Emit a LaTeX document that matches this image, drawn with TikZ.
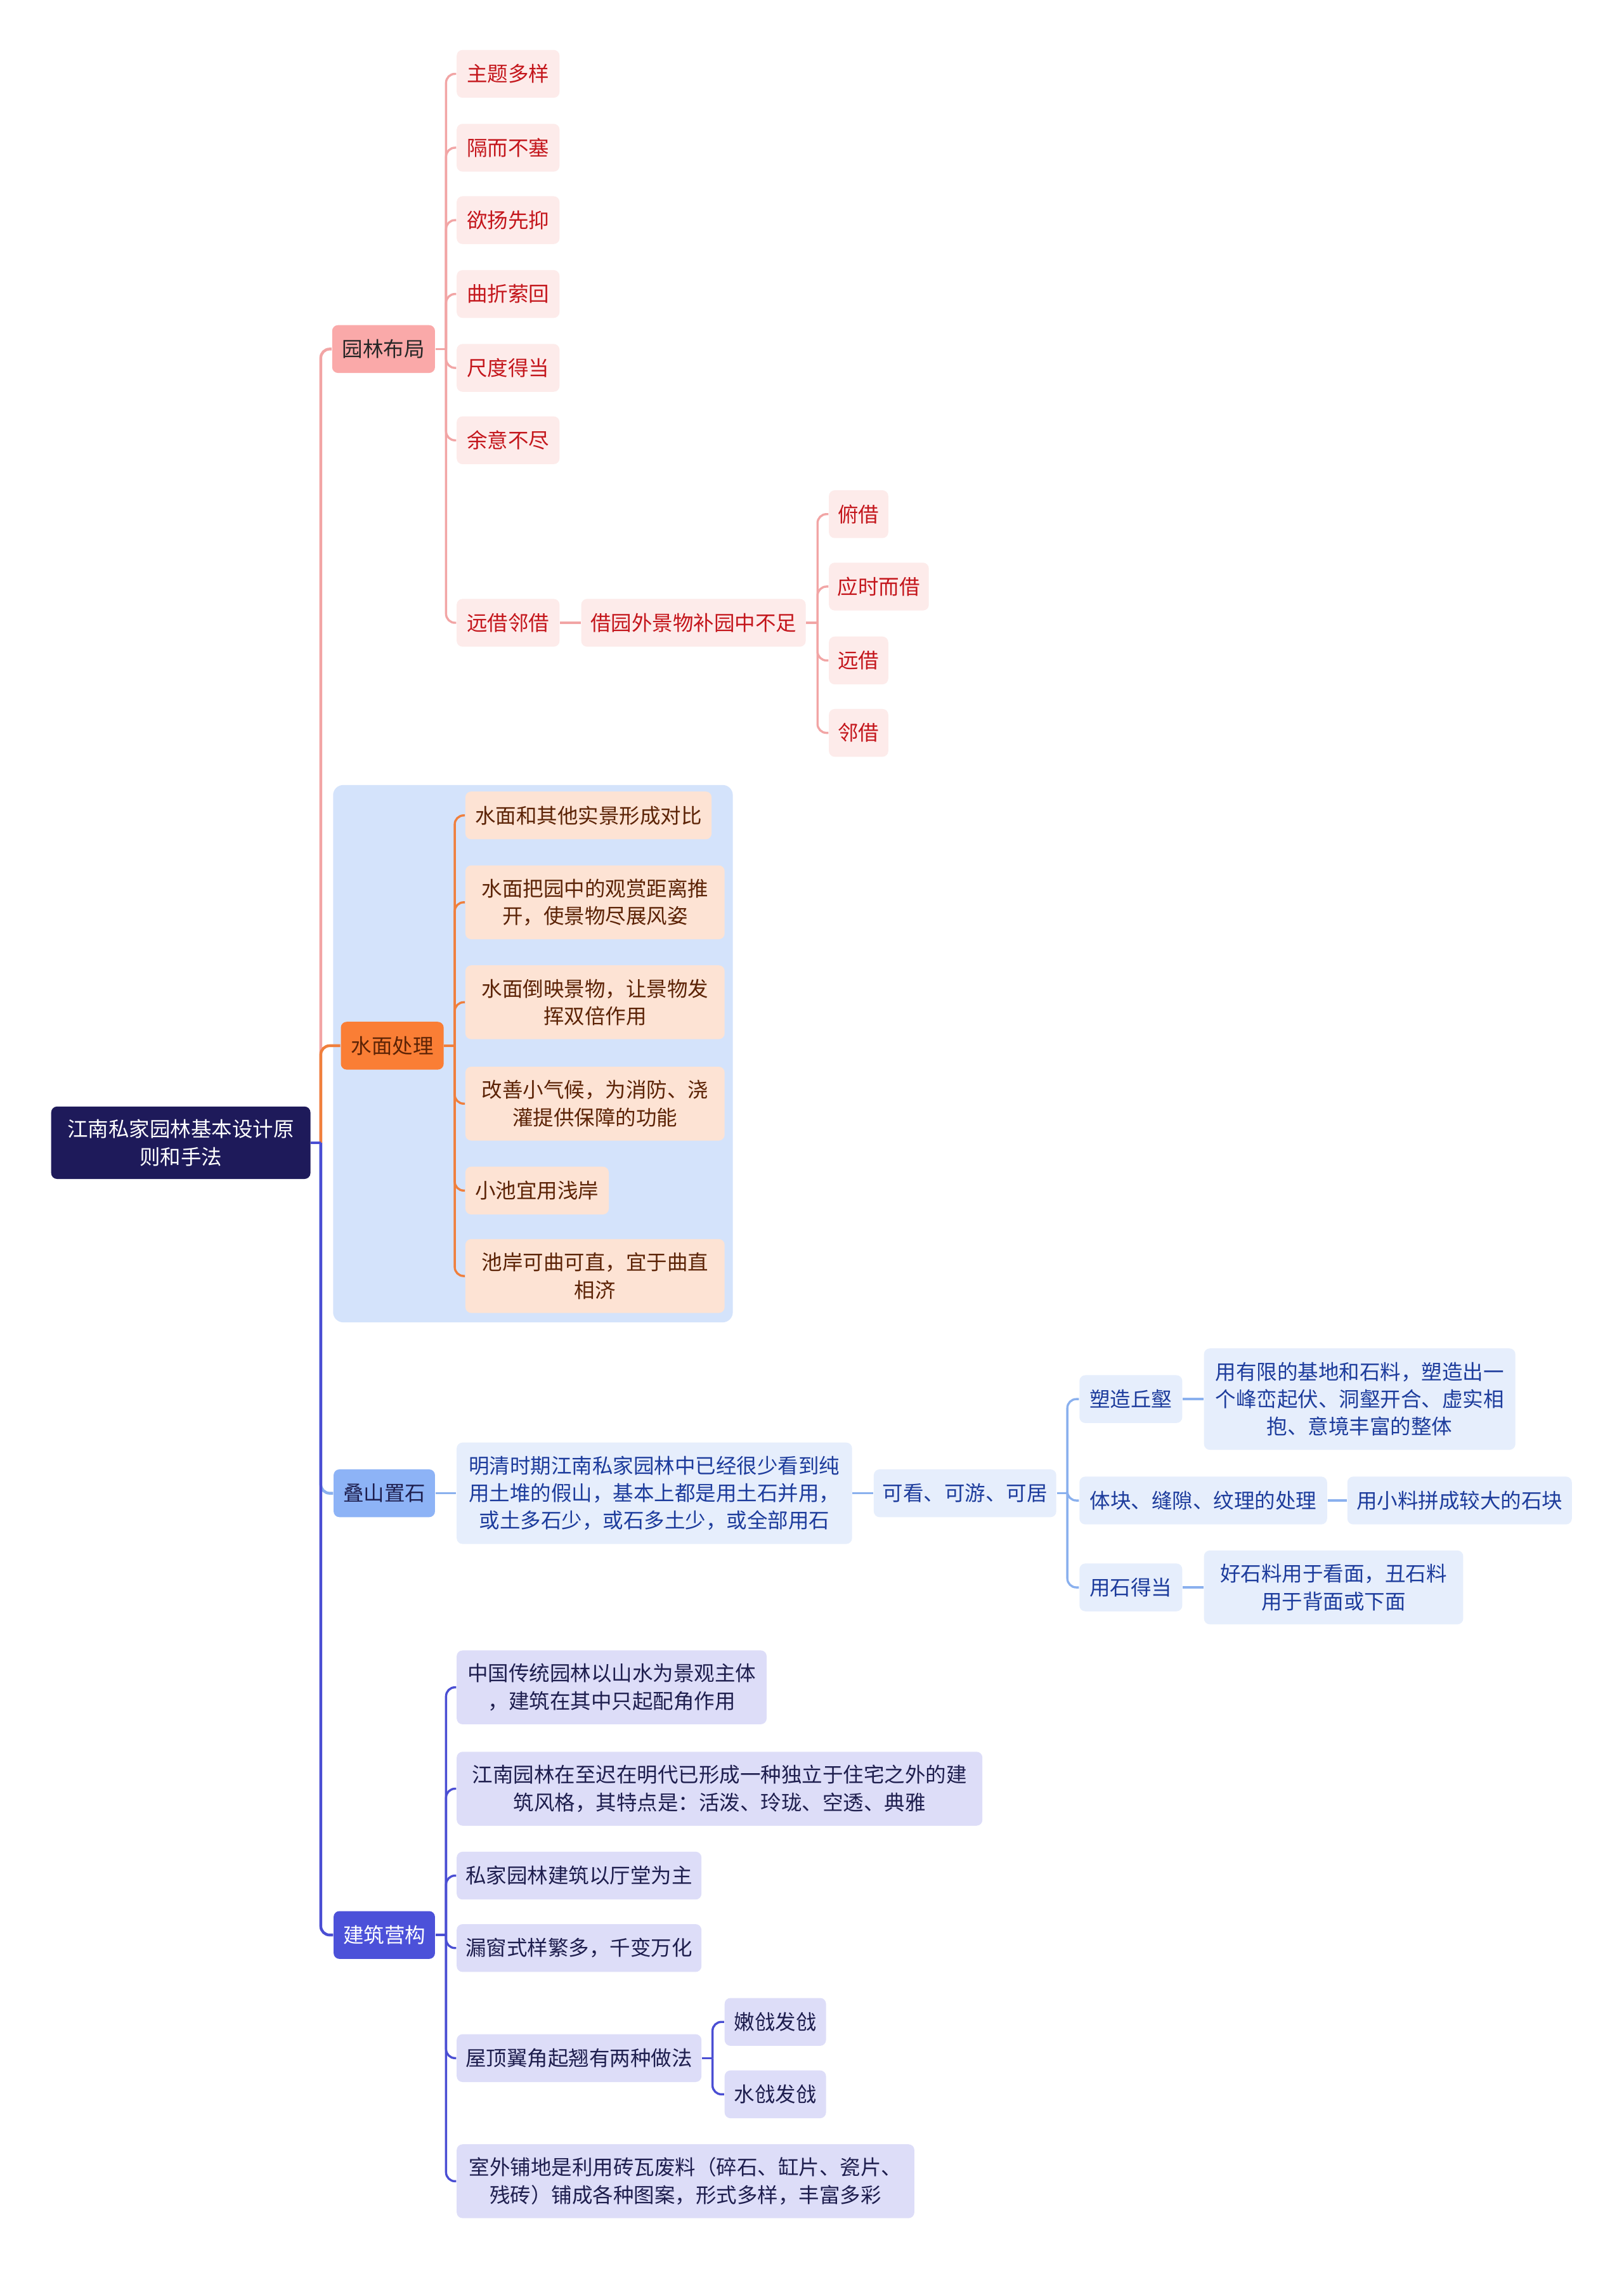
\documentclass[tikz,border=0pt]{standalone}
\usepackage{fontspec}
\setmainfont{Noto Sans CJK SC}

\definecolor{rootc}{HTML}{1E1A5A}
\definecolor{pinkline}{HTML}{F2A5A5}
\definecolor{pinkmain}{HTML}{FAA9A9}
\definecolor{pinksub}{HTML}{FDEBEA}
\definecolor{pinktext}{HTML}{C4161C}
\definecolor{orangeline}{HTML}{F07F3C}
\definecolor{orangemain}{HTML}{FA7E35}
\definecolor{orangesub}{HTML}{FDE3D4}
\definecolor{browntext}{HTML}{5C2306}
\definecolor{waterbg}{HTML}{D4E3FB}
\definecolor{blueline}{HTML}{8AB0EE}
\definecolor{bluemain}{HTML}{8DB3F6}
\definecolor{bluesub}{HTML}{E6EEFC}
\definecolor{bluetext}{HTML}{1D3C9C}
\definecolor{indigoline}{HTML}{4A4ED3}
\definecolor{indigomain}{HTML}{4C51D9}
\definecolor{indigosub}{HTML}{DDDDF8}
\definecolor{navytext}{HTML}{1E1E4E}

\begin{document}
\begin{tikzpicture}[x=0.02cm, y=-0.02cm,
  every node/.style={font=\fontsize{8.1}{10.8}\selectfont, align=center,
    inner sep=0pt, anchor=west, rounded corners=2.3pt},
  sz/.style 2 args={minimum width=#1*0.02cm, minimum height=#2*0.02cm},
  rootbox/.style={fill=rootc, text=white},
  pinkbox/.style={fill=pinkmain, text=black!85},
  pinkleaf/.style={fill=pinksub, text=pinktext},
  orangebox/.style={fill=orangemain, text=browntext},
  orangeleaf/.style={fill=orangesub, text=browntext},
  bluebox/.style={fill=bluemain, text=navytext},
  blueleaf/.style={fill=bluesub, text=bluetext},
  indigobox/.style={fill=indigomain, text=white},
  indigoleaf/.style={fill=indigosub, text=navytext},
  mainline/.style={line width=1.1pt, rounded corners=3.5pt},
  subline/.style={line width=0.85pt, rounded corners=3.5pt}
]

\useasboundingbox (0,0) rectangle (1121,1568);
\fill[white] (0,0) rectangle (1121,1568);

% water group background
\fill[waterbg, rounded corners=4pt] (230,542) rectangle (506,913);

% root
\node[rootbox, sz={179}{50}] (root) at (35,789) {江南私家园林基本设计原\\则和手法};

% 园林布局
\node[pinkbox, sz={71}{33}] (layout) at (229,241) {园林布局};
\node[pinkleaf, sz={71}{33}] (theme) at (315,51) {主题多样};
\node[pinkleaf, sz={71}{33}] (sep) at (315,102) {隔而不塞};
\node[pinkleaf, sz={71}{33}] (raise) at (315,152) {欲扬先抑};
\node[pinkleaf, sz={71}{33}] (winding) at (315,203) {曲折萦回};
\node[pinkleaf, sz={71}{33}] (scale) at (315,254) {尺度得当};
\node[pinkleaf, sz={71}{33}] (linger) at (315,304) {余意不尽};
\node[pinkleaf, sz={71}{33}] (borrow) at (315,430) {远借邻借};
\node[pinkleaf, sz={155}{33}] (borrowout) at (401,430) {借园外景物补园中不足};
\node[pinkleaf, sz={41}{33}] (bdown) at (572,355) {俯借};
\node[pinkleaf, sz={69}{33}] (btime) at (572,405) {应时而借};
\node[pinkleaf, sz={41}{33}] (bfar) at (572,456) {远借};
\node[pinkleaf, sz={41}{33}] (bnear) at (572,506) {邻借};

% 水面处理
\node[orangebox, sz={71}{33}] (water) at (235,722) {水面处理};
\node[orangeleaf, sz={170}{33}] (w1) at (321,563) {水面和其他实景形成对比};
\node[orangeleaf, sz={179}{51}] (w2) at (321,623) {水面把园中的观赏距离推\\开，使景物尽展风姿};
\node[orangeleaf, sz={179}{51}] (w3) at (321,692) {水面倒映景物，让景物发\\挥双倍作用};
\node[orangeleaf, sz={179}{51}] (w4) at (321,762) {改善小气候，为消防、浇\\灌提供保障的功能};
\node[orangeleaf, sz={99}{33}] (w5) at (321,822) {小池宜用浅岸};
\node[orangeleaf, sz={179}{51}] (w6) at (321,881) {池岸可曲可直，宜于曲直\\相济};

% 叠山置石
\node[bluebox, sz={70}{33}] (rock) at (230,1031) {叠山置石};
\node[blueleaf, sz={273}{70}] (rockdesc) at (315,1031) {明清时期江南私家园林中已经很少看到纯\\用土堆的假山，基本上都是用土石并用，\\或土多石少，或石多土少，或全部用石};
\node[blueleaf, sz={126}{33}] (tour) at (603,1031) {可看、可游、可居};
\node[blueleaf, sz={71}{33}] (hill) at (745,966) {塑造丘壑};
\node[blueleaf, sz={215}{70}] (hilldesc) at (831,966) {用有限的基地和石料，塑造出一\\个峰峦起伏、洞壑开合、虚实相\\抱、意境丰富的整体};
\node[blueleaf, sz={171}{33}] (texture) at (745,1036) {体块、缝隙、纹理的处理};
\node[blueleaf, sz={155}{33}] (texdesc) at (930,1036) {用小料拼成较大的石块};
\node[blueleaf, sz={71}{33}] (stone) at (745,1096) {用石得当};
\node[blueleaf, sz={179}{51}] (stonedesc) at (831,1096) {好石料用于看面，丑石料\\用于背面或下面};

% 建筑营构
\node[indigobox, sz={70}{33}] (build) at (230,1336) {建筑营构};
\node[indigoleaf, sz={214}{51}] (b1) at (315,1165) {中国传统园林以山水为景观主体\\，建筑在其中只起配角作用};
\node[indigoleaf, sz={363}{51}] (b2) at (315,1235) {江南园林在至迟在明代已形成一种独立于住宅之外的建\\筑风格，其特点是：活泼、玲珑、空透、典雅};
\node[indigoleaf, sz={169}{33}] (b3) at (315,1295) {私家园林建筑以厅堂为主};
\node[indigoleaf, sz={169}{33}] (b4) at (315,1345) {漏窗式样繁多，千变万化};
\node[indigoleaf, sz={169}{33}] (b5) at (315,1421) {屋顶翼角起翘有两种做法};
\node[indigoleaf, sz={70}{33}] (b5a) at (500,1396) {嫩戗发戗};
\node[indigoleaf, sz={70}{33}] (b5b) at (500,1446) {水戗发戗};
\node[indigoleaf, sz={316}{51}] (b6) at (315,1506) {室外铺地是利用砖瓦废料（碎石、缸片、瓷片、\\残砖）铺成各种图案，形式多样，丰富多彩};

% trunk junctions
\coordinate (rt) at (221.5,789);
\coordinate (lt) at (308,241);
\coordinate (bt) at (564.5,430);
\coordinate (wt) at (314,722);
\coordinate (tt) at (737,1031);
\coordinate (jt) at (308,1336);
\coordinate (rt5) at (492,1421);

% main branches
\draw[mainline, pinkline] (rt) |- (layout.west);
\draw[mainline, orangeline] (rt) |- (water.west);
\draw[mainline, blueline] (rt) |- (rock.west);
\draw[mainline, indigoline] (rt) |- (build.west);
\draw[mainline, indigoline] (root.east) -- (rt);

% 园林布局 links
\draw[subline, pinkline] (layout.east) -- (lt);
\draw[subline, pinkline] (lt) |- (theme.west);
\draw[subline, pinkline] (lt) |- (sep.west);
\draw[subline, pinkline] (lt) |- (raise.west);
\draw[subline, pinkline] (lt) |- (winding.west);
\draw[subline, pinkline] (lt) |- (scale.west);
\draw[subline, pinkline] (lt) |- (linger.west);
\draw[subline, pinkline] (lt) |- (borrow.west);
\draw[subline, pinkline] (borrow.east) -- (borrowout.west);
\draw[subline, pinkline] (borrowout.east) -- (bt);
\draw[subline, pinkline] (bt) |- (bdown.west);
\draw[subline, pinkline] (bt) |- (btime.west);
\draw[subline, pinkline] (bt) |- (bfar.west);
\draw[subline, pinkline] (bt) |- (bnear.west);

% 水面处理 links
\draw[subline, orangeline] (water.east) -- (wt);
\draw[subline, orangeline] (wt) |- (w1.west);
\draw[subline, orangeline] (wt) |- (w2.west);
\draw[subline, orangeline] (wt) |- (w3.west);
\draw[subline, orangeline] (wt) |- (w4.west);
\draw[subline, orangeline] (wt) |- (w5.west);
\draw[subline, orangeline] (wt) |- (w6.west);

% 叠山置石 links
\draw[subline, blueline] (rock.east) -- (rockdesc.west);
\draw[subline, blueline] (rockdesc.east) -- (tour.west);
\draw[subline, blueline] (tour.east) -- (tt);
\draw[subline, blueline] (tt) |- (hill.west);
\draw[subline, blueline] (tt) |- (texture.west);
\draw[subline, blueline] (tt) |- (stone.west);
\draw[subline, blueline] (hill.east) -- (hilldesc.west);
\draw[subline, blueline] (texture.east) -- (texdesc.west);
\draw[subline, blueline] (stone.east) -- (stonedesc.west);

% 建筑营构 links
\draw[subline, indigoline] (build.east) -- (jt);
\draw[subline, indigoline] (jt) |- (b1.west);
\draw[subline, indigoline] (jt) |- (b2.west);
\draw[subline, indigoline] (jt) |- (b3.west);
\draw[subline, indigoline] (jt) |- (b4.west);
\draw[subline, indigoline] (jt) |- (b5.west);
\draw[subline, indigoline] (jt) |- (b6.west);
\draw[subline, indigoline] (b5.east) -- (rt5);
\draw[subline, indigoline] (rt5) |- (b5a.west);
\draw[subline, indigoline] (rt5) |- (b5b.west);

\end{tikzpicture}
\end{document}
